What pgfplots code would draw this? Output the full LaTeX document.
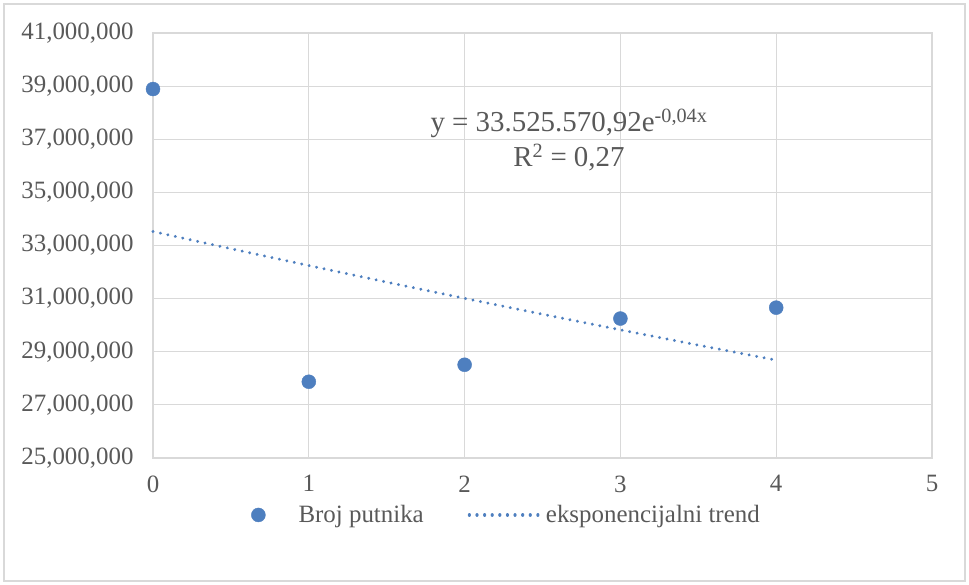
\documentclass[border=0pt]{standalone}
\usepackage{pgfplots}
\pgfplotsset{compat=1.18}
\usepackage{fontspec}
\setmainfont{Liberation Serif}
\definecolor{ptc}{HTML}{4E7FBF}
\definecolor{gridc}{HTML}{D9D9D9}
\definecolor{txt}{HTML}{595959}
\pgfplotsset{
  markleg/.style={legend image code/.code={\draw[##1] plot coordinates {(35bp,0bp)}; \path (0bp,0bp) (70bp,0bp);}},
  lineleg/.style={legend image code/.code={\draw[##1] (0bp,0bp) -- (70bp,0bp);}},
}
\begin{document}
\begin{tikzpicture}[x=1bp,y=1bp]
\fill[white] (0,0) rectangle (969,585);
\draw[gridc, line width=1.2bp] (4,4) rectangle (965,581);
\begin{axis}[
  at={(153bp,127bp)}, anchor=south west,
  scale only axis, width=779bp, height=425bp,
  xmin=0, xmax=5, ymin=25000000, ymax=41000000,
  xtick={0,1,2,3,4,5},
  ytick={25000000,27000000,29000000,31000000,33000000,35000000,37000000,39000000,41000000},
  scaled y ticks=false,
  yticklabel style={xshift=-16bp},
  y tick label style={/pgf/number format/fixed, /pgf/number format/precision=0, /pgf/number format/1000 sep={,}},
  /pgf/number format/assume math mode=true,
  grid=major,
  major grid style={gridc, line width=1.2bp},
  axis line style={gridc, line width=1.2bp},
  tick style={draw=none},
  ticklabel style={font=\fontsize{25}{29}\selectfont, text=txt},
  xticklabel style={yshift=-14bp},
  clip=false,
  legend columns=2,
  legend style={draw=none, fill=none, at={(0.086,-0.134)}, anchor=west,
    font=\fontsize{25}{29}\selectfont, text=txt, column sep=3bp,
    /tikz/every even column/.append style={column sep=42bp}},
  legend cell align=left,
]
\addplot[only marks, mark=*, mark size=7bp, mark options={fill=ptc, draw=ptc}, markleg]
  coordinates {(0,38890000) (1,27870000) (2,28510000) (3,30250000) (4,30660000)};
\addlegendentry{Broj putnika}
\addplot[ptc, line width=3.2bp, dash pattern=on 0.01bp off 7.6bp, line cap=round, lineleg]
  coordinates {(0,33526000) (0.5,32879000) (1,32244000) (1.5,31621000) (2,31010000)
  (2.5,30412000) (3,29824000) (3.5,29248000) (4,28684000)};
\addlegendentry{eksponencijalni trend}
\node[align=center, text=txt, font=\fontsize{29}{35}\selectfont] at (axis cs:2.67,36970000)
  {y = 33.525.570,92e\textsuperscript{-0,04x}\\R\textsuperscript{2} = 0,27};
\end{axis}
\end{tikzpicture}
\end{document}
